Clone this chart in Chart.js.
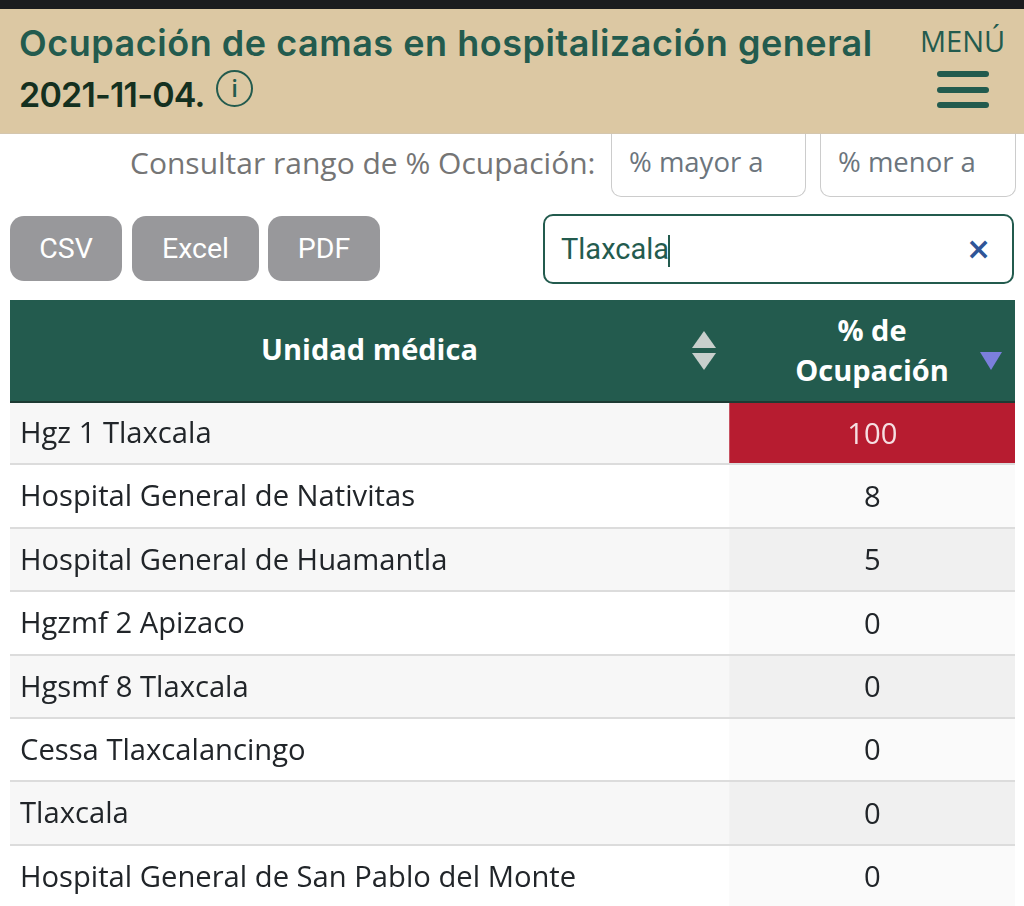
<!DOCTYPE html>
<html lang="es">
<head>
<meta charset="utf-8">
<title>Ocupación de camas</title>
<script src="https://cdn.jsdelivr.net/npm/chart.js@4"></script>
<style>
html, body { margin: 0; padding: 0; width: 1024px; height: 906px; overflow: hidden; background: #fff; }
div, span { position: absolute; white-space: nowrap; box-sizing: border-box; }
.btn { top: 216px; height: 65px; background: #98989b; border-radius: 14px; color: #fff; font: 28.5px Roboto, sans-serif; line-height: 66px; text-align: center; }
.inp { top: 134px; height: 63px; background: #fff; border: 1px solid #ccc; border-top: none; border-radius: 0 0 10px 10px; color: #6c757d; font: 27.5px "Open Sans", sans-serif; line-height: 56px; padding-left: 17px; }
.tri { width: 0; height: 0; border-left: 12px solid transparent; border-right: 12px solid transparent; z-index: 2; }
.bar { left: 937px; width: 52px; height: 6px; background: #235b4e; border-radius: 3px; }
</style>
</head>
<body>
<div style="left:0;top:0;width:1024px;height:9px;background:#1b1c1e"></div>
<div style="left:0;top:9px;width:1024px;height:125px;background:#dcc8a3;border-bottom:1px solid #d4c6ae"></div>
<div style="left:19px;top:21px;font:600 36px Inter,sans-serif;letter-spacing:.52px;color:#235b4e;line-height:44px">Ocupación de camas en hospitalización general</div>
<div style="left:19px;top:73px;font:600 34px Inter,sans-serif;letter-spacing:-.8px;color:#14301f;line-height:44px">2021-11-04.</div>
<div style="left:216px;top:70px;width:37px;height:37px;border:2.5px solid #235b4e;border-radius:50%;color:#235b4e;font:600 24px 'Open Sans',sans-serif;line-height:31px;text-align:center">i</div>
<div style="left:920px;top:22px;font:29px 'Open Sans',sans-serif;color:#235b4e;line-height:38px">MENÚ</div>
<div class="bar" style="top:71px"></div>
<div class="bar" style="top:87px"></div>
<div class="bar" style="top:102px"></div>

<div style="left:130px;top:144px;font:30px 'Open Sans',sans-serif;color:#757575;line-height:38px">Consultar rango de % Ocupación:</div>
<div class="inp" style="left:611px;width:195px">% mayor a</div>
<div class="inp" style="left:820px;width:196px">% menor a</div>

<div class="btn" style="left:10px;width:112px">CSV</div>
<div class="btn" style="left:132px;width:127px">Excel</div>
<div class="btn" style="left:268px;width:112px">PDF</div>
<div style="left:543px;top:214px;width:471px;height:70px;border:2px solid #235b4e;border-radius:10px;font:29px Roboto,sans-serif;color:#235b4e;line-height:66px;padding-left:16px">Tlaxcala<span style="left:123px;top:19px;width:2px;height:32px;background:#235b4e"></span></div>
<div style="left:966px;top:231px;font:bold 30px 'DejaVu Sans',sans-serif;color:#2f5597;line-height:36px">×</div>

<div style="left:10px;top:401px;width:1005px;height:507px"><canvas id="tabla"></canvas></div>

<div style="left:10px;top:300px;width:1005px;height:103px;background:#235b4e;border-bottom:2px solid #1d3b33"></div>
<div style="left:10px;top:330px;width:719px;text-align:center;font:bold 29px 'Open Sans',sans-serif;color:#fff;line-height:38px">Unidad médica</div>
<div style="left:729px;top:310px;width:286px;text-align:center;font:bold 29px 'Open Sans',sans-serif;color:#fff;line-height:40px">% de<br>Ocupación</div>
<div class="tri" style="left:692px;top:331px;border-bottom:17px solid #c8cfcc"></div>
<div class="tri" style="left:692px;top:353px;border-top:17px solid #c8cfcc"></div>
<div class="tri" style="left:980px;top:352px;border-left-width:11px;border-right-width:11px;border-top:18px solid #7b7fdc"></div>

<script>
const unidades = ['Hgz 1 Tlaxcala', 'Hospital General de Nativitas', 'Hospital General de Huamantla', 'Hgzmf 2 Apizaco', 'Hgsmf 8 Tlaxcala', 'Cessa Tlaxcalancingo', 'Tlaxcala', 'Hospital General de San Pablo del Monte'];
const ocupacion = [100, 8, 5, 0, 0, 0, 0, 0];

// the x scale is the table width, 0-100; the % column starts at 71.6
const inicioCol = 71.6;

const fuente = { family: 'Open Sans', size: 29.2 };

// writes the % value in the middle of each cell of the second column
const textoCeldas = {
    id: 'textoCeldas',
    afterDatasetsDraw(chart) {
        const ctx = chart.ctx;
        ctx.save();
        ctx.font = '29.2px "Open Sans"';
        ctx.textAlign = 'center';
        ctx.textBaseline = 'middle';
        chart.getDatasetMeta(0).data.forEach((bar, i) => {
            ctx.fillStyle = ocupacion[i] >= 90 ? '#f6dfe2' : '#212529';
            ctx.fillText(ocupacion[i], (chart.scales.x.getPixelForValue(inicioCol) + chart.scales.x.getPixelForValue(100)) / 2, bar.y + 2.5);
        });
        ctx.restore();
    }
};

new Chart(document.getElementById('tabla').getContext('2d'), {
    type: 'bar',
    plugins: [textoCeldas],
    data: {
        labels: unidades,
        datasets: [
            {
                label: '% de Ocupación',
                data: unidades.map(() => [inicioCol, 100]),
                backgroundColor: c => ocupacion[c.dataIndex] >= 90 ? '#b71c30' : (c.dataIndex % 2 ? '#fafafa' : '#f0f0f0'),
                order: 1
            },
            {
                label: 'Unidad médica',
                data: unidades.map(() => [0, inicioCol]),
                backgroundColor: c => c.dataIndex % 2 ? '#ffffff' : '#f7f7f7',
                order: 2
            }
        ]
    },
    options: {
        indexAxis: 'y',
        responsive: true,
        maintainAspectRatio: false,
        animation: false,
        layout: { padding: 0 },
        datasets: { bar: { grouped: false, barPercentage: 1, categoryPercentage: 1 } },
        plugins: { legend: { display: false }, tooltip: { enabled: false } },
        scales: {
            x: { display: false, min: 0, max: 100 },
            y: {
                // mirrored labels sit inside the cells, so the axis takes no room
                afterFit(scale) {
                    scale.width = 0;
                    scale.paddingTop = 0;
                    scale.paddingBottom = 0;
                },
                border: { display: false },
                grid: { offset: true, color: '#dcdcdc', lineWidth: 2, drawTicks: false, z: 1 },
                ticks: { mirror: true, padding: 10, labelOffset: 2, autoSkip: false, color: '#212529', font: fuente, z: 2 }
            }
        }
    }
});
</script>
</body>
</html>
